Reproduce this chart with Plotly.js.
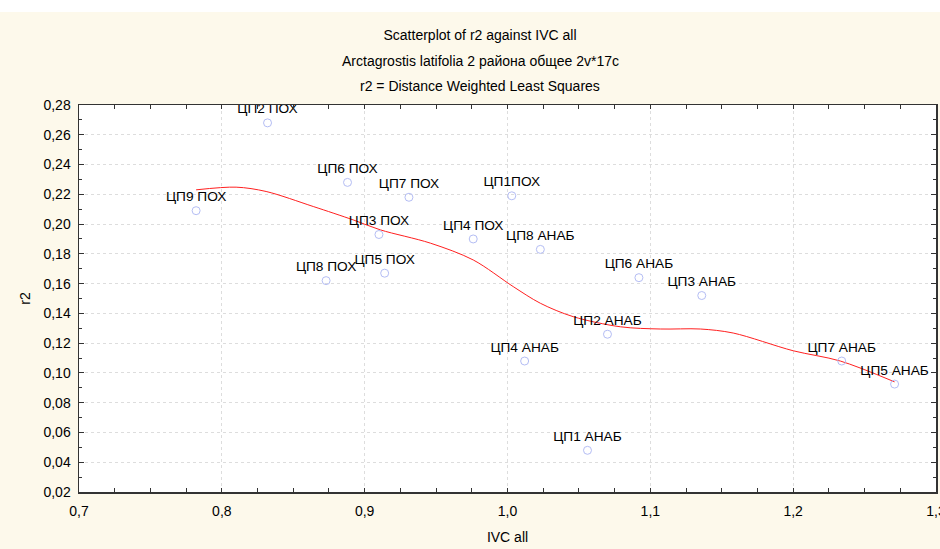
<!DOCTYPE html>
<html>
<head>
<meta charset="utf-8">
<script src="https://cdn.plot.ly/plotly-3.0.1.min.js"></script>
<style>
  html, body { margin: 0; padding: 0; background: #ffffff; }
  #chart { position: absolute; left: 0; top: 12px; width: 940px; height: 537px; }
</style>
</head>
<body>
<div id="chart"></div>
<script>
// Point labels
const labels = ['ЦП1ПОХ','ЦП2 ПОХ','ЦП3 ПОХ','ЦП4 ПОХ','ЦП5 ПОХ','ЦП6 ПОХ','ЦП7 ПОХ','ЦП8 ПОХ','ЦП9 ПОХ',
                'ЦП1 АНАБ','ЦП2 АНАБ','ЦП3 АНАБ','ЦП4 АНАБ','ЦП5 АНАБ','ЦП6 АНАБ','ЦП7 АНАБ','ЦП8 АНАБ'];
// IVC all (x)
const ivc = [1.003, 0.832, 0.910, 0.976, 0.914, 0.888, 0.931, 0.873, 0.782,
             1.056, 1.070, 1.136, 1.012, 1.271, 1.092, 1.234, 1.023];
// r2 (y)
const r2 = [0.219, 0.268, 0.193, 0.190, 0.167, 0.228, 0.218, 0.162, 0.209,
            0.048, 0.126, 0.152, 0.108, 0.0925, 0.164, 0.108, 0.183];
// Distance weighted least squares fit
const fitX = [0.782, 0.810, 0.831, 0.864, 0.892, 0.911, 0.946, 0.976, 1.004, 1.023, 1.046, 1.079, 1.107, 1.135, 1.158, 1.200, 1.233, 1.271];
const fitY = [0.223, 0.2248, 0.2219, 0.2118, 0.2028, 0.1961, 0.1872, 0.1759, 0.158, 0.1468, 0.1378, 0.131, 0.1295, 0.1295, 0.1268, 0.1149, 0.108, 0.094];

const titleLines = ['Scatterplot of r2 against IVC all',
                    'Arctagrostis latifolia 2 района общее 2v*17c',
                    'r2 = Distance Weighted Least Squares'];
const xTitle = 'IVC all';
const yTitle = 'r2';

const FONT = 'Liberation Sans, Arial, sans-serif';

const traces = [
  {
    x: fitX, y: fitY, type: 'scatter', mode: 'lines',
    line: { color: '#ff2020', width: 1, shape: 'spline', smoothing: 0.9 },
    hoverinfo: 'skip', showlegend: false
  },
  {
    x: ivc, y: r2, text: labels, type: 'scatter', mode: 'markers+text',
    textposition: 'top center',
    textfont: { family: FONT, size: 13.7, color: '#000000' },
    marker: { symbol: 'circle-open', size: 8, color: '#b4bdf4', line: { width: 1, color: '#b4bdf4' } },
    showlegend: false
  }
];

const axisCommon = {
  showline: true, linecolor: '#333333', linewidth: 1.5, mirror: 'ticks',
  ticks: 'inside', tickcolor: '#333333', tickwidth: 1,
  showgrid: true, gridcolor: '#dddddd', griddash: 'dot', gridwidth: 1,
  zeroline: false,
  tickfont: { family: FONT, size: 14, color: '#000000' },
  ticklabeloverflow: 'allow',
  automargin: false
};

const layout = {
  width: 940, height: 537,
  paper_bgcolor: '#fdf9eb', plot_bgcolor: '#ffffff',
  separators: ', ',
  margin: { l: 79, r: 4, t: 93, b: 57 },
  showlegend: false,
  title: {
    text: titleLines[0],
    font: { family: FONT, size: 14, color: '#000000' },
    x: 480 / 940, xanchor: 'center', xref: 'container',
    y: 1 - 23 / 537, yanchor: 'middle', yref: 'container'
  },
  annotations: [
    { text: titleLines[1], xref: 'paper', yref: 'paper', x: (480 - 79) / 857, y: (480 - 49) / 387,
      xanchor: 'center', yanchor: 'middle', showarrow: false,
      font: { family: FONT, size: 14, color: '#000000' } },
    { text: titleLines[2], xref: 'paper', yref: 'paper', x: (480 - 79) / 857, y: (480 - 74) / 387,
      xanchor: 'center', yanchor: 'middle', showarrow: false,
      font: { family: FONT, size: 14, color: '#000000' } }
  ],
  xaxis: Object.assign({}, axisCommon, {
    range: [0.7, 1.3], dtick: 0.1, tick0: 0.7, tickformat: '.1f', ticklen: 4,
    minor: { dtick: 0.025, ticks: 'inside', ticklen: 4, tickcolor: '#333333', showgrid: false },
    ticklabelstandoff: 6,
    title: { text: xTitle, font: { family: FONT, size: 14, color: '#000000' }, standoff: 14 }
  }),
  yaxis: Object.assign({}, axisCommon, {
    range: [0.02, 0.28], dtick: 0.02, tick0: 0.02, tickformat: '.2f', ticklen: 5,
    minor: { dtick: 0.01, ticks: 'inside', ticklen: 3, tickcolor: '#333333', showgrid: false },
    ticklabelstandoff: 4,
    title: { text: yTitle, font: { family: FONT, size: 14, color: '#000000' }, standoff: 9 }
  })
};

Plotly.newPlot('chart', traces, layout, { displayModeBar: false, staticPlot: true });
</script>
</body>
</html>
